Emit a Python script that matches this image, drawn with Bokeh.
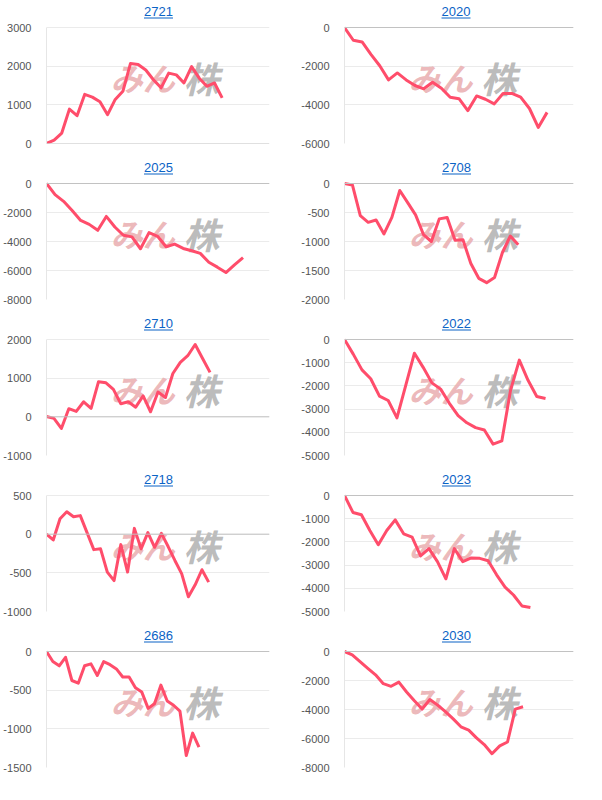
from bokeh.plotting import figure
from bokeh.layouts import gridplot
from bokeh.models import (Range1d, FixedTicker, Span, Label, BoxAnnotation,
                          PrintfTickFormatter)
from bokeh.embed import file_html
from bokeh.resources import INLINE

# ---- data ----
names = ["2721", "2020", "2025", "2708", "2710", "2022", "2718", "2023", "2686", "2030"]

s2721 = [0, 85, 270, 890, 720, 1270, 1200, 1080, 745, 1140, 1350, 2070, 2045, 1900,
         1650, 1440, 1820, 1775, 1565, 1990, 1690, 1480, 1565, 1180]
s2020 = [0, -660, -745, -1390, -1980, -2710, -2350, -2710, -3000, -3170, -2830, -3140,
         -3610, -3680, -4300, -3540, -3710, -3950, -3410, -3410, -3600, -4190, -5170, -4390]
s2025 = [0, -770, -1230, -1860, -2550, -2820, -3230, -2270, -3000, -3570, -3680, -4500,
         -3390, -3640, -4360, -4180, -4480, -4640, -4820, -5430, -5770, -6140, -5610, -5110]
s2708 = [0, -25, -555, -670, -630, -870, -585, -120, -330, -540, -880, -1000, -610, -585,
         -980, -970, -1380, -1635, -1710, -1620, -1190, -905, -1055]
s2710 = [10, -40, -300, 210, 140, 390, 220, 910, 880, 710, 340, 390, 250, 540, 130, 640,
         500, 1120, 1410, 1580, 1870, 1510, 1150]
s2022 = [0, -630, -1310, -1690, -2440, -2630, -3380, -1990, -590, -1200, -1870, -2140,
         -2750, -3280, -3590, -3800, -3900, -4510, -4370, -2180, -890, -1760, -2460, -2540]
s2718 = [0, -75, 200, 290, 225, 240, 20, -200, -190, -490, -600, -135, -490, 75, -190, 20,
         -170, 10, -160, -340, -510, -810, -655, -460, -620]
s2023 = [0, -730, -830, -1510, -2120, -1510, -1050, -1650, -1790, -2600, -2290, -2850,
         -3590, -2290, -2850, -2690, -2710, -2810, -3420, -3950, -4290, -4760, -4830]
s2686 = [0, -130, -185, -75, -375, -410, -185, -160, -310, -130, -170, -225, -330, -330,
         -470, -525, -735, -675, -435, -640, -695, -770, -1345, -1055, -1235]
s2030 = [0, -230, -700, -1160, -1610, -2220, -2400, -2110, -2790, -3400, -3970, -3310,
         -3700, -4150, -4650, -5190, -5420, -5960, -6420, -7050, -6510, -6240, -3970, -3810]

series = [s2721, s2020, s2025, s2708, s2710, s2022, s2718, s2023, s2686, s2030]

y_ticks = [
    [0, 1000, 2000, 3000],
    [-6000, -4000, -2000, 0],
    [-8000, -6000, -4000, -2000, 0],
    [-2000, -1500, -1000, -500, 0],
    [-1000, 0, 1000, 2000],
    [-5000, -4000, -3000, -2000, -1000, 0],
    [-1000, -500, 0, 500],
    [-5000, -4000, -3000, -2000, -1000, 0],
    [-1500, -1000, -500, 0],
    [-8000, -6000, -4000, -2000, 0],
]

# ---- layout (per panel: left border, right border, x extent of the axis) ----
layout_lr = [(34, 24), (48, 11), (43, 15), (51, 7), (38, 20),
             (50, 8), (39, 19), (49, 9), (44, 14), (45, 13)]
x_extent = [29.2, 26.0, 26.1, 29.0, 30.0, 26.2, 33.0, 27.1, 35.1, 29.5]

W, H = 293, 156
TITLE_PAD = 27        # px above the data area reserved for the title
DATA_H = 116          # px of the data area
BOTTOM = H - TITLE_PAD - DATA_H
LINE_COLOR = "#ff4d6b"
TITLE_COLOR = "#0b63c6"
FONT = "Liberation Sans"

figs = []
for i, name in enumerate(names):
    vals = series[i]
    ticks = y_ticks[i]
    ymin, ymax = min(ticks), max(ticks)
    L, R = layout_lr[i]
    fw = W - L - R
    ytop = ymax + (ymax - ymin) * TITLE_PAD / DATA_H
    p = figure(width=W, height=H, output_backend="svg", toolbar_location=None,
               x_range=Range1d(0, x_extent[i]), y_range=Range1d(ymin, ytop),
               x_axis_location=None, min_border_left=L, min_border_right=R,
               min_border_top=0, min_border_bottom=BOTTOM,
               outline_line_color=None, background_fill_color="white",
               border_fill_color="white")
    p.xgrid.visible = False
    p.ygrid.ticker = FixedTicker(ticks=ticks)
    p.ygrid.grid_line_color = "#ebebeb"
    p.ygrid.grid_line_width = 1
    ax = p.yaxis[0]
    ax.ticker = FixedTicker(ticks=ticks)
    ax.formatter = PrintfTickFormatter(format="%d")
    ax.bounds = (ymin, ymax)
    ax.major_tick_line_color = None
    ax.minor_tick_line_color = None
    ax.axis_line_color = "#e6e6e6"
    ax.major_label_text_font = FONT
    ax.major_label_text_font_size = "11px"
    ax.major_label_text_color = "#555555"
    ax.major_label_standoff = 9

    p.add_layout(Span(location=0, dimension="width", line_color="#c2c2c2", line_width=1))

    # watermark (logo)
    wy = 0.57 * DATA_H
    p.add_layout(Label(x=0.41 * fw, y=wy, x_units="screen", y_units="screen", text="みん",
                       text_align="center", text_baseline="middle",
                       text_font="Noto Sans CJK JP", text_font_size="32px",
                       text_font_style="bold italic", text_color="#eab0b2",
                       text_alpha=0.9, level="underlay"))
    p.add_layout(Label(x=0.66 * fw, y=wy, x_units="screen", y_units="screen", text="株",
                       text_align="center", text_baseline="middle",
                       text_font="Noto Sans CJK JP", text_font_size="36px",
                       text_font_style="bold italic", text_color="#b3b3b3",
                       text_alpha=0.9, level="underlay"))

    xs = list(range(len(vals)))
    p.line(xs, vals, line_color=LINE_COLOR, line_width=3, line_join="round")

    # title (underlined link style)
    cx = fw / 2 - 5.5
    p.add_layout(Label(x=cx, y=DATA_H + 16, x_units="screen", y_units="screen", text=name,
                       text_align="center", text_baseline="middle",
                       text_font=FONT, text_font_size="13px", text_color=TITLE_COLOR))
    p.add_layout(BoxAnnotation(left=cx - 14.5, right=cx + 14.5,
                               bottom=DATA_H + 9, top=DATA_H + 10,
                               left_units="screen", right_units="screen",
                               bottom_units="screen", top_units="screen",
                               fill_color=TITLE_COLOR, fill_alpha=1, line_color=None,
                               line_alpha=0))
    figs.append(p)

grid = gridplot([[figs[0], figs[1]], [figs[2], figs[3]], [figs[4], figs[5]],
                 [figs[6], figs[7]], [figs[8], figs[9]]], toolbar_location=None)

open("out.html", "w").write(file_html(grid, INLINE))
